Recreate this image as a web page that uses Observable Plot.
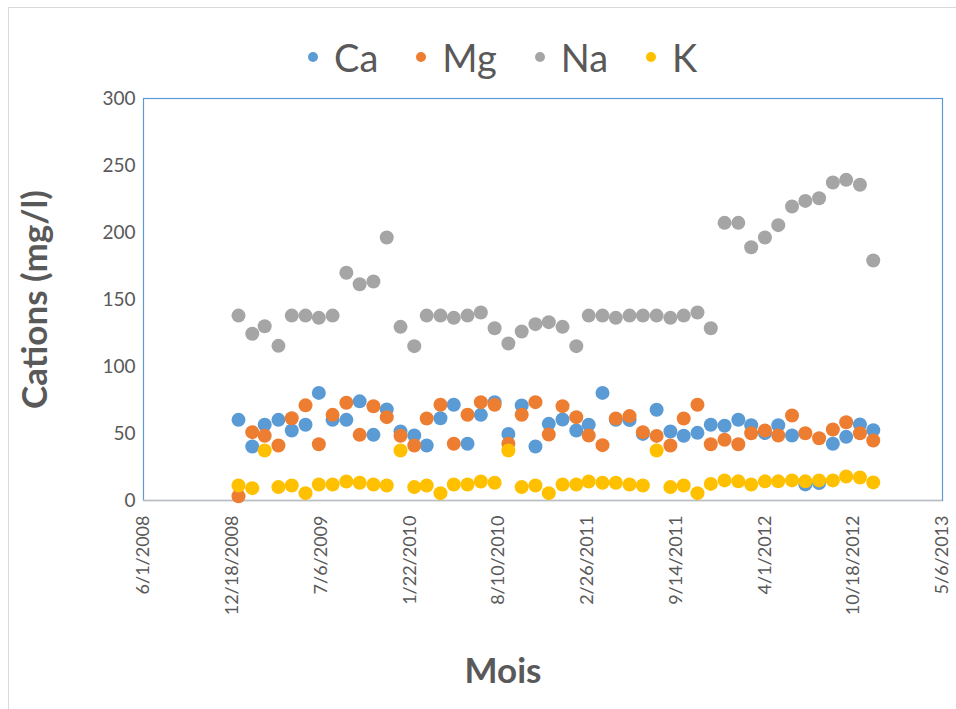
<!DOCTYPE html>
<html>
<head>
<meta charset="utf-8">
<script src="https://cdn.jsdelivr.net/npm/d3@7"></script>
<script src="https://cdn.jsdelivr.net/npm/@observablehq/plot@0.6"></script>
<style>
  html, body { margin: 0; padding: 0; background: #fff; }
  #wrap { position: relative; width: 956px; height: 709px; overflow: hidden; font-family: Lato, "Open Sans", sans-serif; }
  #border { position: absolute; left: 8px; top: 7px; width: 1000px; height: 800px; border: 1px solid #D9D9D9; box-sizing: border-box; }
  #legend { position: absolute; top: 33px; left: 308px; display: flex; align-items: center; color: #595959; font-size: 38px; line-height: 48px; }
  .item { display: flex; align-items: center; margin-right: 38px; }
  .dot { width: 10px; height: 10px; border-radius: 50%; margin-right: 16px; }
  #chart { position: absolute; left: 0; top: 0; }
</style>
</head>
<body>
<div id="wrap">
  <div id="border"></div>
  <div id="chart"></div>
  <div id="legend"></div>
</div>
<script>
// Series names and colours
const seriesNames = ["Ca", "Mg", "Na", "K"];
const seriesColors = ["#5B9BD5", "#ED7D31", "#A5A5A5", "#FFC000"];

// Monthly sampling: Jan 2009 .. Dec 2012 (48 months)
const firstMonth = "2009-01-01";
const endMonth = "2013-01-01";

// Values (mg/l)
const Ca = [60.2, 40.3, 56.5, 60.2, 52.2, 56.5, 80.3, 60.2, 60.2, 74.0, 49.0, 68.0,
            51.5, 48.5, 41.0, 61.4, 71.4, 42.3, 63.9, 73.4, 49.7, 70.9, 40.3, 57.2,
            60.5, 52.2, 56.6, 80.3, 60.3, 60.0, 49.7, 67.7, 51.5, 48.3, 50.5, 56.5,
            55.8, 60.3, 56.2, 50.3, 56.2, 48.5, 12.0, 13.0, 42.3, 47.5, 56.8, 52.5];
const Mg = [3.2, 51.0, 48.3, 41.0, 61.4, 71.0, 42.0, 63.9, 72.9, 49.0, 70.3, 62.2,
            48.3, 41.0, 61.2, 71.4, 42.3, 64.0, 73.4, 71.4, 42.3, 64.0, 73.4, 49.3,
            70.4, 62.2, 48.5, 41.3, 61.2, 63.0, 51.0, 48.2, 41.0, 61.2, 71.4, 42.0,
            45.3, 42.0, 50.2, 52.2, 48.5, 63.4, 50.2, 46.5, 53.0, 58.4, 50.2, 44.8];
const Na = [138, 124.4, 130, 115.4, 138, 138, 136.3, 138, 170, 161.4, 163.4, 196.3,
            129.6, 115.2, 138, 138, 136.3, 138, 140.3, 128.6, 117.2, 126.1, 131.6, 133.1,
            129.6, 115.2, 138, 138, 136.3, 138, 138, 138, 136.3, 138, 140.3, 128.6,
            207.2, 207.2, 189, 196.3, 205.5, 219.4, 223.6, 225.6, 237.3, 239.3, 235.6, 179.1];
const K  = [11.2, 9.2, 37.3, 10.0, 11.2, 5.5, 11.9, 11.9, 14.2, 13.2, 11.9, 11.2,
            37.3, 10.0, 11.2, 5.5, 11.9, 11.9, 14.2, 13.2, 37.3, 10.0, 11.2, 5.5,
            11.9, 11.9, 14.2, 13.2, 13.2, 11.9, 11.2, 37.3, 10.0, 11.2, 5.5, 12.4,
            15.0, 14.3, 11.9, 14.3, 14.3, 15.0, 14.3, 15.0, 15.0, 17.9, 17.2, 13.5];

// Axis tick labels
const xTickLabels = ["6/1/2008", "12/18/2008", "7/6/2009", "1/22/2010", "8/10/2010",
                     "2/26/2011", "9/14/2011", "4/1/2012", "10/18/2012", "5/6/2013"];
const yTicks = [0, 50, 100, 150, 200, 250, 300];

const yLabel = "Cations (mg/l)";
const xLabel = "Mois";

// Build table
const months = d3.utcMonths(new Date(firstMonth), new Date(endMonth));
const seriesValues = [Ca, Mg, Na, K];
const rows = [];
seriesNames.forEach((name, s) => {
  months.forEach((m, i) => rows.push({date: m, value: seriesValues[s][i], series: name}));
});

const parseMDY = s => { const [m, d, y] = s.split("/").map(Number); return new Date(Date.UTC(y, m - 1, d)); };
const xTicks = xTickLabels.map(parseMDY);
const fmt = d => `${d.getUTCMonth() + 1}/${d.getUTCDate()}/${d.getUTCFullYear()}`;

const chart = Plot.plot({
  width: 956,
  height: 709,
  marginLeft: 143,
  marginRight: 14,
  marginTop: 98,
  marginBottom: 209,
  style: {fontFamily: "Lato, 'Open Sans', sans-serif", color: "#595959", background: "transparent", overflow: "visible"},
  x: {type: "utc", domain: [xTicks[0], xTicks[xTicks.length - 1]]},
  y: {domain: [0, 300]},
  color: {domain: seriesNames, range: seriesColors},
  marks: [
    Plot.frame({stroke: "#5B9BD5", strokeWidth: 1.2}),
    Plot.ruleY([0], {stroke: "#BFBFBF", strokeWidth: 1.5}),
    Plot.axisY({ticks: yTicks, tickSize: 0, tickPadding: 8, fontSize: 19, label: null, fill: "#595959"}),
    Plot.axisX({ticks: xTicks, tickFormat: fmt, tickSize: 0, tickRotate: -90, tickPadding: 15, fontSize: 18, label: null, fill: "#595959"}),
    Plot.dot(rows, {x: "date", y: "value", fill: "series", r: 7, stroke: "none"}),
    Plot.text([yLabel], {frameAnchor: "left", dx: -108, rotate: -90, textAnchor: "middle", fontSize: 35, fontWeight: "bold", fill: "#595959"}),
    Plot.text([xLabel], {frameAnchor: "bottom", dx: -40, dy: 182, fontSize: 35, fontWeight: "bold", fill: "#595959"})
  ]
});
document.getElementById("chart").appendChild(chart);

const legend = document.getElementById("legend");
seriesNames.forEach((name, i) => {
  const item = document.createElement("div");
  item.className = "item";
  const dot = document.createElement("span");
  dot.className = "dot";
  dot.style.background = seriesColors[i];
  const label = document.createElement("span");
  label.textContent = name;
  item.appendChild(dot);
  item.appendChild(label);
  legend.appendChild(item);
});
</script>
</body>
</html>
